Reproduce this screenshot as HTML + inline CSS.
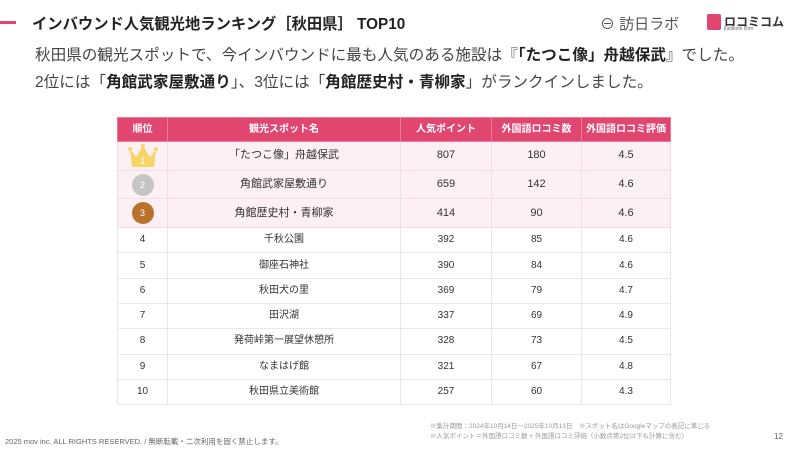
<!DOCTYPE html>
<html><head><meta charset="utf-8"><style>
*{margin:0;padding:0;box-sizing:border-box}
body{width:800px;height:450px;background:#fff;position:relative;overflow:hidden;font-family:"Liberation Sans","Noto Sans CJK JP",sans-serif;color:#333}
.a{position:absolute;white-space:nowrap}
table{position:absolute;left:117px;top:117px;border-collapse:collapse;width:554px;font-size:10px;color:#333;table-layout:fixed}
td,th{border:1px solid #e8e8e8;text-align:center;padding:0;line-height:1}
th{background:#e0466f;color:#fff;font-weight:bold;height:24px;border-color:#ea7d98}
tr.p td{background:#fdf0f4;height:28.7px;font-size:11px;border-color:#f5dde4}
tr.w td{height:25.3px}
</style></head><body>
<div class="a" style="left:0;top:21px;width:16px;height:3px;background:#e0466f"></div>
<div class="a" style="left:32px;top:12px;font-size:15.3px;font-weight:bold;color:#222">インバウンド人気観光地ランキング［秋田県］ TOP10</div>
<div class="a" style="left:600px;top:13px;font-size:15px;color:#555">⊖ 訪日ラボ</div>
<div class="a" style="left:707px;top:14px;width:14px;height:16px;background:#e0466f;border-radius:2px"></div>
<div class="a" style="left:724px;top:13px;font-size:12px;color:#333;font-weight:bold">ロコミコム</div>
<div class="a" style="left:724px;top:26px;font-size:5px;color:#666">kutikomi com</div>
<div class="a" style="left:35px;top:43px;font-size:15.6px;color:#444">秋田県の観光スポットで、今インバウンドに最も人気のある施設は『<b style="color:#222">「たつこ像」舟越保武</b>』でした。</div>
<div class="a" style="left:35px;top:70px;font-size:15.6px;color:#444">2位には「<b style="color:#222">角館武家屋敷通り</b>」、3位には「<b style="color:#222">角館歴史村・青柳家</b>」がランクインしました。</div>
<table>
<tr><th style="width:50px">順位</th><th style="width:233px">観光スポット名</th><th style="width:91px">人気ポイント</th><th style="width:90px">外国語ロコミ数</th><th>外国語ロコミ評価</th></tr>
<tr class="p"><td><svg style="display:block;margin:0 auto" width="32" height="26" viewBox="0 0 32 26"><circle cx="3" cy="6" r="2" fill="#f7d566"/><circle cx="16" cy="3" r="2" fill="#f7d566"/><circle cx="29" cy="6" r="2" fill="#f7d566"/><path d="M3 6 L9 14 L16 3 L23 14 L29 6 L27 24 L5 24 Z" fill="#f7d566"/><text x="16" y="21" font-size="9" fill="#fff" text-anchor="middle" font-family="Liberation Sans">1</text></svg></td><td>「たつこ像」舟越保武</td><td>807</td><td>180</td><td>4.5</td></tr>
<tr class="p"><td><span style="display:inline-block;width:22px;height:22px;border-radius:50%;background:#c5c5c5;color:#fff;line-height:22px;font-size:9px">2</span></td><td>角館武家屋敷通り</td><td>659</td><td>142</td><td>4.6</td></tr>
<tr class="p"><td><span style="display:inline-block;width:22px;height:22px;border-radius:50%;background:#b8722c;color:#fff;line-height:22px;font-size:9px">3</span></td><td>角館歴史村・青柳家</td><td>414</td><td>90</td><td>4.6</td></tr>
<tr class="w"><td>4</td><td>千秋公園</td><td>392</td><td>85</td><td>4.6</td></tr>
<tr class="w"><td>5</td><td>御座石神社</td><td>390</td><td>84</td><td>4.6</td></tr>
<tr class="w"><td>6</td><td>秋田犬の里</td><td>369</td><td>79</td><td>4.7</td></tr>
<tr class="w"><td>7</td><td>田沢湖</td><td>337</td><td>69</td><td>4.9</td></tr>
<tr class="w"><td>8</td><td>発荷峠第一展望休憩所</td><td>328</td><td>73</td><td>4.5</td></tr>
<tr class="w"><td>9</td><td>なまはげ館</td><td>321</td><td>67</td><td>4.8</td></tr>
<tr class="w"><td>10</td><td>秋田県立美術館</td><td>257</td><td>60</td><td>4.3</td></tr>
</table>
<div class="a" style="left:430px;top:420px;font-size:6.5px;color:#999">※集計期間：2024年10月14日〜2025年10月13日　※スポット名はGoogleマップの表記に準じる</div>
<div class="a" style="left:430px;top:430px;font-size:6.5px;color:#999">※人気ポイント＝外国語ロコミ数 × 外国語ロコミ評価（小数点第2位以下も計算に含む）</div>
<div class="a" style="left:5px;top:436px;font-size:7.5px;color:#666">2025 mov inc. ALL RIGHTS RESERVED. / 無断転載・二次利用を固く禁止します。</div>
<div class="a" style="left:774px;top:432px;font-size:8px;color:#666">12</div>
</body></html>
